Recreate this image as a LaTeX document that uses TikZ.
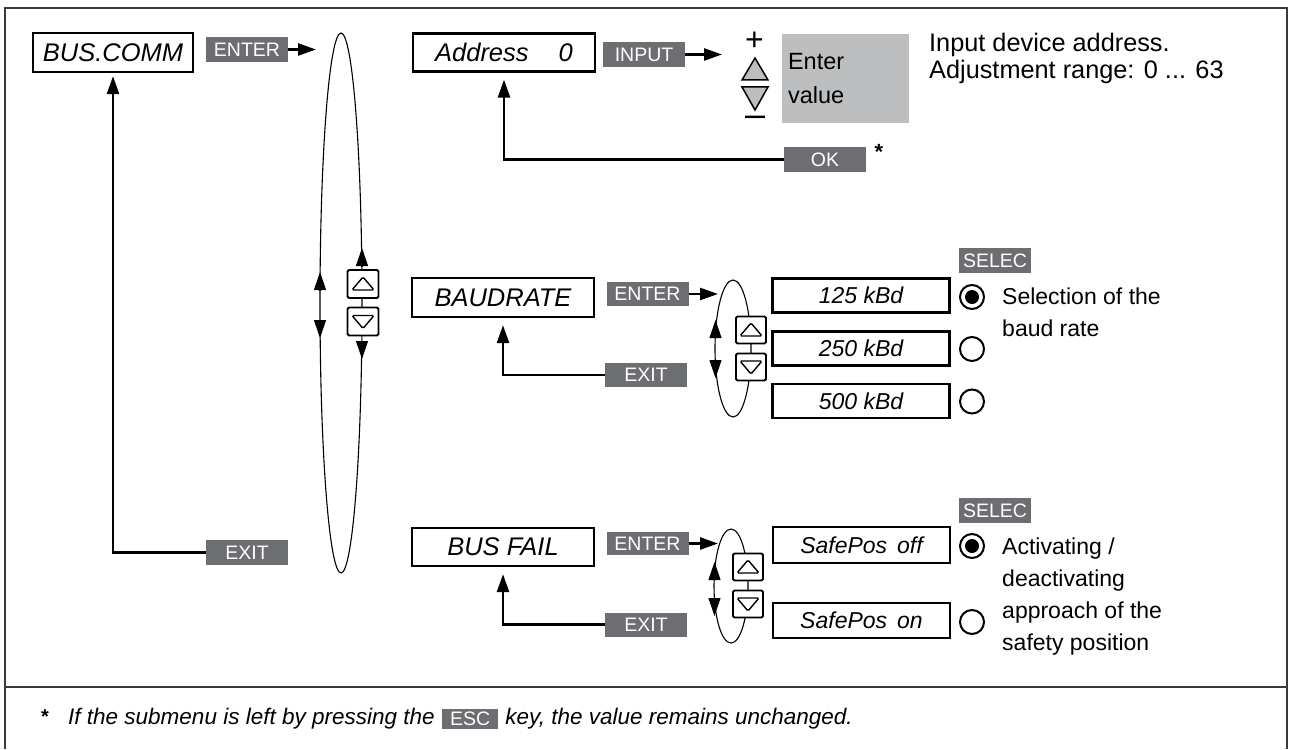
\documentclass[tikz,border=0pt]{standalone}
\usepackage{fontspec}
\setmainfont{Liberation Sans}
\usepackage{tikz}
\usetikzlibrary{
    positioning,
    arrows.meta
}
\definecolor{keygray}{HTML}{6D6E71}
\definecolor{fieldgray}{HTML}{BCBEC0}
\definecolor{framegray}{HTML}{3A3A3A}
\newcommand{\dispfont}{\fontsize{25.5}{30}\selectfont\itshape}
\newcommand{\optfont}{\fontsize{23}{28}\selectfont\itshape}
\newcommand{\keyfont}{\fontsize{19.5}{22}\selectfont}
\newcommand{\descfont}{\fontsize{23}{32}\selectfont}
\tikzset{
    >={Triangle[length=18pt,width=12pt]},
    dispbox/.style={
        draw,
        line width=2.3pt,
        fill=white,
        inner sep=0pt,
        minimum width=182pt,
        minimum height=38pt,
        font=\dispfont
    },
    optbox/.style={
        dispbox,
        minimum width=177pt,
        minimum height=34pt,
        font=\optfont
    },
    keylabel/.style={
        fill=keygray,
        text=white,
        inner sep=0pt,
        minimum width=82pt,
        minimum height=25pt,
        font=\keyfont
    },
    arrowkey/.style={
        draw,
        line width=1.8pt,
        fill=white,
        inner sep=0pt,
        minimum width=31pt,
        minimum height=28pt,
        rounded corners=1.5pt
    },
    keyup/.style={
        arrowkey,
        path picture={
            \draw[line width=1.4pt]
                ([shift={(-11pt,-6pt)}]path picture bounding box.center)
                -- ++(22pt,0pt) -- ++(-11pt,13pt) -- cycle;
        }
    },
    keydown/.style={
        arrowkey,
        path picture={
            \draw[line width=1.4pt]
                ([shift={(-11pt,6pt)}]path picture bounding box.center)
                -- ++(22pt,0pt) -- ++(-11pt,-13pt) -- cycle;
        }
    },
    radio/.style={
        circle,
        draw,
        line width=2pt,
        minimum size=24pt,
        inner sep=0pt
    },
    chosen/.style={
        radio,
        path picture={
            \fill (path picture bounding box.center) circle (7pt);
        }
    },
    menuring/.style={line width=1.1pt},
    backline/.style={->, line width=2.5pt, shorten >=7pt},
    desc/.style={
        font=\descfont,
        align=left,
        inner sep=0pt,
        anchor=north west
    },
    footnote/.style={
        font=\fontsize{22.5}{26}\selectfont\itshape,
        inner sep=0pt
    }
}

\begin{document}
\begin{tikzpicture}[x=1pt, y=-1pt]
    \useasboundingbox (0,0) rectangle (1292,749);

    % Marco
    \draw[framegray, line width=2pt] (5,749) -- (5,8) -- (1287,8) -- (1287,749);
    \draw[framegray, line width=1.5pt] (5,687) -- (1287,687);

    % Menu principal
    \node[dispbox, minimum width=160pt, minimum height=39pt] (buscomm) at (113,52.5) {BUS.COMM};
    \node[keylabel] (enterA) at (247,49.5) {ENTER};
    \node[keylabel] (exitA)  at (247,552.5) {EXIT};
    \coordinate (ringA) at (316,49.5);

    % Anillo del menu
    \draw[menuring] (341,303) ellipse [x radius=21, y radius=270];
    \draw[menuring, ->] (320,290) -- (320,272);
    \draw[menuring, ->] (320,320) -- (320,338);
    \draw[menuring, ->] (362,266) -- (362,248);
    \draw[menuring, ->] (362,341) -- (362,359);
    \node[keyup]   (upA)   at (363,284) {};
    \node[keydown] (downA) at (363,321.5) {};

    % Direccion
    \node[dispbox] (address) at (504,52.5) {Address\hspace{30pt}0};
    \node[keylabel] (input) at (644,54.5) {INPUT};
    \coordinate (valueIn) at (722,54.5);
    \node[font=\fontsize{32}{32}\selectfont, inner sep=0pt] (plus) at (754.5,41.5) {+};
    \draw[fill=fieldgray, line width=1.5pt] (742,80) -- (768,80) -- (755,58) -- cycle;
    \draw[fill=fieldgray, line width=1.5pt] (742,87) -- (768,87) -- (755,110) -- cycle;
    \node[font=\fontsize{36}{36}\selectfont, inner sep=0pt] (minus) at (755,121) {–};
    \node[fill=fieldgray, minimum width=127pt, minimum height=89pt, text width=115pt,
          inner xsep=6pt, inner ysep=0pt, align=left,
          font=\fontsize{23.5}{34}\selectfont] (value) at (845.5,78.5) {Enter\\value};
    \node[desc, font=\fontsize{25.3}{27}\selectfont] (infoaddr) at (929,33)
        {Input device address.\\Adjustment range: 0 ... 63};
    \node[keylabel] (okkey) at (825,159.5) {OK};
    \node[font=\fontsize{22}{22}\selectfont\bfseries, inner sep=0pt] (star) at (879,152) {*};

    % Velocidad de transmision
    \node[dispbox, minimum height=39pt] (baud) at (503,297.5) {BAUDRATE};
    \node[keylabel, minimum height=24pt] (enterB) at (647.5,294) {ENTER};
    \node[keylabel, minimum height=24pt] (exitB)  at (646,375) {EXIT};
    \coordinate (ringB) at (718,294);
    \draw[menuring] (733,348.5) ellipse [x radius=18, y radius=68.5];
    \draw[menuring, ->] (715.5,338) -- (715.5,320);
    \draw[menuring, ->] (715.5,360) -- (715.5,378);
    \node[keyup, minimum width=30pt, minimum height=27pt]   (upB)   at (751,330) {};
    \node[keydown, minimum width=30pt, minimum height=27pt] (downB) at (751,367) {};
    \node[optbox] (b125) at (861,295.5) {125 kBd};
    \node[optbox] (b250) at (861,348.5) {250 kBd};
    \node[optbox] (b500) at (861,401)   {500 kBd};
    \node[chosen] (r125) at (972,297) {};
    \node[radio]  (r250) at (972,349) {};
    \node[radio]  (r500) at (972,401.5) {};
    \node[keylabel, minimum width=72pt] (selecB) at (995,260.5) {SELEC};
    \node[desc] (infobaud) at (1002,288) {Selection of the\\baud rate};

    % Fallo del bus
    \node[dispbox] (busfail) at (503,547) {BUS FAIL};
    \node[keylabel, minimum height=23pt] (enterC) at (647.5,543.5) {ENTER};
    \node[keylabel, minimum height=24pt] (exitC)  at (646,624.5) {EXIT};
    \coordinate (ringC) at (718,543.5);
    \draw[menuring] (731,586) ellipse [x radius=17, y radius=57];
    \draw[menuring, ->] (714.5,580) -- (714.5,562);
    \draw[menuring, ->] (714.5,598) -- (714.5,616);
    \node[keyup, minimum width=30pt, minimum height=27pt]   (upC)   at (748,567) {};
    \node[keydown, minimum width=30pt, minimum height=27pt] (downC) at (748,604) {};
    \node[optbox, minimum height=36pt] (safeoff) at (861.5,545) {SafePos\hspace{10pt}off};
    \node[optbox, minimum height=35pt] (safeon)  at (861.5,620.5) {SafePos\hspace{10pt}on};
    \node[chosen] (roff) at (972,546) {};
    \node[radio]  (ron)  at (972,622) {};
    \node[keylabel, minimum width=72pt] (selecC) at (995,510.5) {SELEC};
    \node[desc] (infofail) at (1002,538)
        {Activating /\\deactivating\\approach of the\\safety position};

    % Transiciones
    \path[->, line width=2.5pt]
        (enterA) edge (ringA)
        (input)  edge (valueIn)
        (enterB) edge (ringB)
        (enterC) edge (ringC);

    \draw[backline, shorten >=3pt] (exitA.west) -| (buscomm.south);
    \draw[backline] (okkey.west) -| (address.south);
    \draw[backline] (exitB.west) -| (baud.south);
    \draw[backline] (exitC.west) -| (busfail.south);

    % Nota
    \node[footnote, font=\fontsize{20}{22}\selectfont\bfseries] (fnstar) at (45,717) {*};
    \node[footnote, anchor=west] (fntext) at (68,719) {If the submenu is left by pressing the};
    \node[keylabel, right=7pt of fntext, minimum width=56pt, minimum height=20pt] (esc) {ESC};
    \node[footnote, right=7pt of esc] (fnrest) {key, the value remains unchanged.};

\end{tikzpicture}
\end{document}
